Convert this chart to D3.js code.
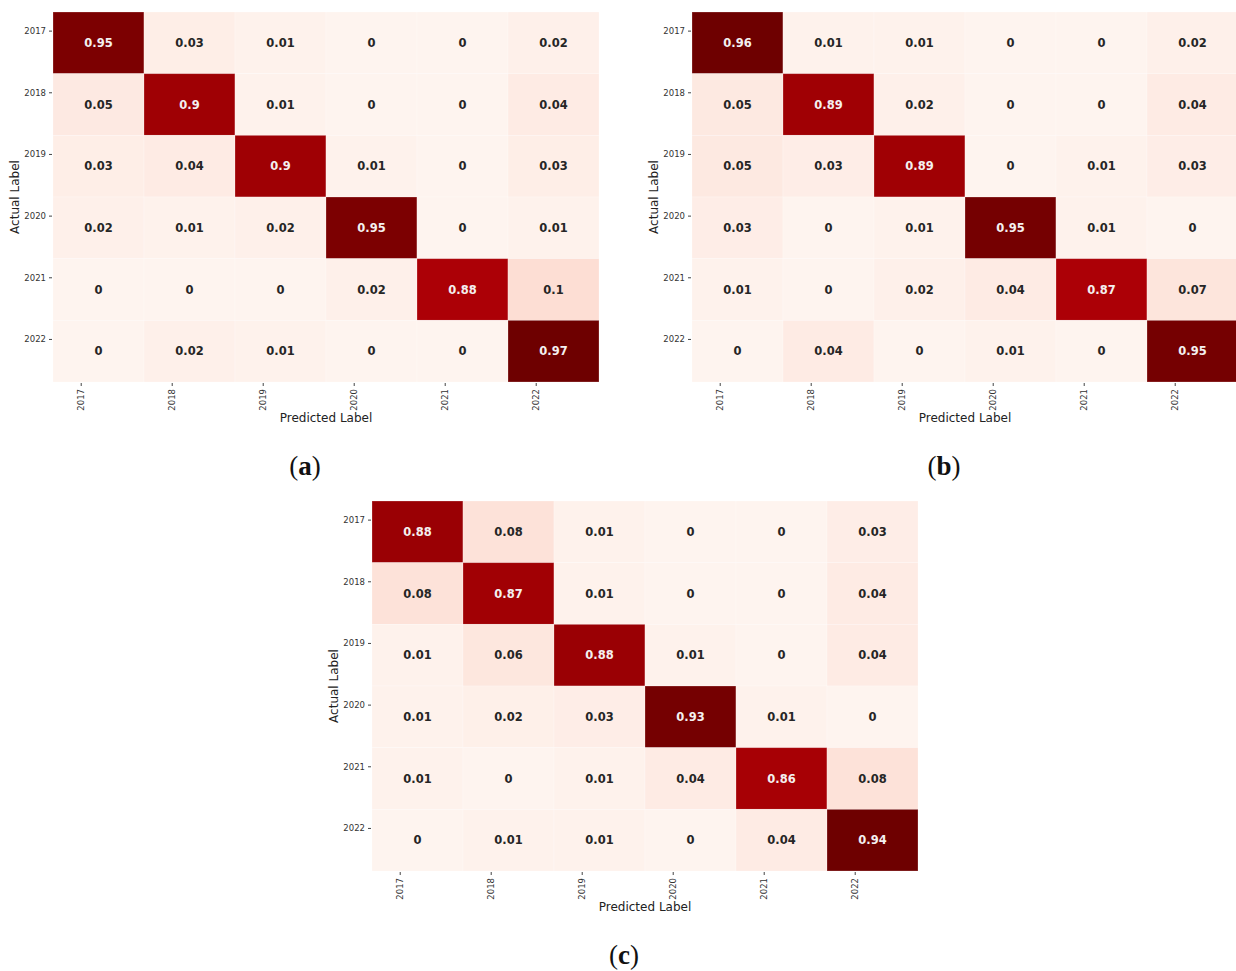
<!DOCTYPE html>
<html>
<head>
<meta charset="utf-8">
<script src="https://cdn.jsdelivr.net/npm/d3@7"></script>
<style>
  body { margin: 0; background: #fff; }
  svg { display: block; }
</style>
</head>
<body>
<div id="chart"></div>
<script>
// years used on both axes
const years = ['2017', '2018', '2019', '2020', '2021', '2022'];

// confusion matrices, rows = actual, columns = predicted
const matrixA = [
  [0.95, 0.03, 0.01, 0, 0, 0.02],
  [0.05, 0.9, 0.01, 0, 0, 0.04],
  [0.03, 0.04, 0.9, 0.01, 0, 0.03],
  [0.02, 0.01, 0.02, 0.95, 0, 0.01],
  [0, 0, 0, 0.02, 0.88, 0.1],
  [0, 0.02, 0.01, 0, 0, 0.97]
];
const matrixB = [
  [0.96, 0.01, 0.01, 0, 0, 0.02],
  [0.05, 0.89, 0.02, 0, 0, 0.04],
  [0.05, 0.03, 0.89, 0, 0.01, 0.03],
  [0.03, 0, 0.01, 0.95, 0.01, 0],
  [0.01, 0, 0.02, 0.04, 0.87, 0.07],
  [0, 0.04, 0, 0.01, 0, 0.95]
];
const matrixC = [
  [0.88, 0.08, 0.01, 0, 0, 0.03],
  [0.08, 0.87, 0.01, 0, 0, 0.04],
  [0.01, 0.06, 0.88, 0.01, 0, 0.04],
  [0.01, 0.02, 0.03, 0.93, 0.01, 0],
  [0.01, 0, 0.01, 0.04, 0.86, 0.08],
  [0, 0.01, 0.01, 0, 0.04, 0.94]
];

const panelLabels = ['a', 'b', 'c'];

const width = 1236;
const height = 971;

const svg = d3.select('#chart').append('svg')
  .attr('width', width)
  .attr('height', height)
  .attr('viewBox', [0, 0, width, height]);

// where each heatmap sits on the page
const panels = [
  {label: panelLabels[0], matrix: matrixA, left: 53, top: 12},
  {label: panelLabels[1], matrix: matrixB, left: 692, top: 12},
  {label: panelLabels[2], matrix: matrixC, left: 372, top: 501}
];

const mapW = 546;
const mapH = 370;

// reds ramp, a bit more saturated at the dark end than d3.interpolateReds
const rampStops = [0, 0.1, 0.5, 0.9, 0.93, 1];
const rampColors = ['#fef4ef', '#fddfd5', '#fb6a4a', '#b00006', '#9e0004', '#6e0000'];

panels.forEach(drawPanel);

function drawPanel(p) {
  const g = svg.append('g').attr('transform', `translate(${p.left},${p.top})`);

  const x = d3.scaleBand().domain(years).range([0, mapW]);
  const y = d3.scaleBand().domain(years).range([0, mapH]);

  // colour range runs from 0 to the largest value of each matrix
  const maxVal = d3.max(p.matrix.flat());
  const color = d3.scaleLinear()
    .domain(rampStops.map(s => s * maxVal))
    .range(rampColors)
    .interpolate(d3.interpolateRgb);

  const cells = [];
  p.matrix.forEach((row, i) => row.forEach((v, j) => {
    cells.push({actual: years[i], predicted: years[j], value: v});
  }));

  g.append('g')
    .selectAll('rect')
    .data(cells)
    .join('rect')
    .attr('x', d => x(d.predicted))
    .attr('y', d => y(d.actual))
    .attr('width', x.bandwidth())
    .attr('height', y.bandwidth())
    .attr('fill', d => color(d.value))
    .attr('stroke', 'rgba(255,255,255,0.3)')
    .attr('stroke-width', 0.8);

  g.append('g')
    .selectAll('text')
    .data(cells)
    .join('text')
    .attr('x', d => x(d.predicted) + x.bandwidth() / 2)
    .attr('y', d => y(d.actual) + y.bandwidth() / 2)
    .attr('dy', '0.36em')
    .attr('text-anchor', 'middle')
    .attr('font-family', 'DejaVu Sans, sans-serif')
    .attr('font-weight', 'bold')
    .attr('font-size', 11.5)
    .attr('fill', d => d3.lab(color(d.value)).l < 55 ? '#f4f0f0' : '#262626')
    .text(d => d.value);

  // ticks sit a little before the band centre, like in the source figure
  const tickShiftX = -0.19 * x.bandwidth();
  const tickShiftY = -0.19 * y.bandwidth();

  const yAxis = g.append('g')
    .attr('transform', `translate(-1,${tickShiftY})`)
    .call(d3.axisLeft(y).tickSize(3).tickPadding(3));
  yAxis.select('.domain').remove();
  yAxis.selectAll('line').attr('stroke', '#444');
  yAxis.selectAll('text')
    .attr('font-family', 'DejaVu Sans, sans-serif')
    .attr('font-size', 8.5)
    .attr('fill', '#333');

  const xAxis = g.append('g')
    .attr('transform', `translate(${tickShiftX},${mapH + 1})`)
    .call(d3.axisBottom(x).tickSize(3).tickPadding(3));
  xAxis.select('.domain').remove();
  xAxis.selectAll('line').attr('stroke', '#444');
  xAxis.selectAll('text')
    .attr('font-family', 'DejaVu Sans, sans-serif')
    .attr('font-size', 8.5)
    .attr('fill', '#333')
    .attr('text-anchor', 'end')
    .attr('dy', '0.32em')
    .attr('transform', 'translate(0,6) rotate(-90)')
    .attr('x', 0)
    .attr('y', 0);

  g.append('text')
    .attr('transform', `translate(-34,${mapH / 2}) rotate(-90)`)
    .attr('text-anchor', 'middle')
    .attr('font-family', 'DejaVu Sans, sans-serif')
    .attr('font-size', 12)
    .attr('fill', '#222')
    .text('Actual Label');

  g.append('text')
    .attr('x', mapW / 2)
    .attr('y', mapH + 40)
    .attr('text-anchor', 'middle')
    .attr('font-family', 'DejaVu Sans, sans-serif')
    .attr('font-size', 12)
    .attr('fill', '#222')
    .text('Predicted Label');

  const cap = g.append('text')
    .attr('x', mapW / 2 - 21)
    .attr('y', mapH + 93)
    .attr('text-anchor', 'middle')
    .attr('font-family', 'Liberation Serif, DejaVu Serif, serif')
    .attr('font-size', 27)
    .attr('fill', '#111');
  cap.append('tspan').text('(');
  cap.append('tspan').attr('font-weight', 'bold').text(p.label);
  cap.append('tspan').text(')');
}
</script>
</body>
</html>
